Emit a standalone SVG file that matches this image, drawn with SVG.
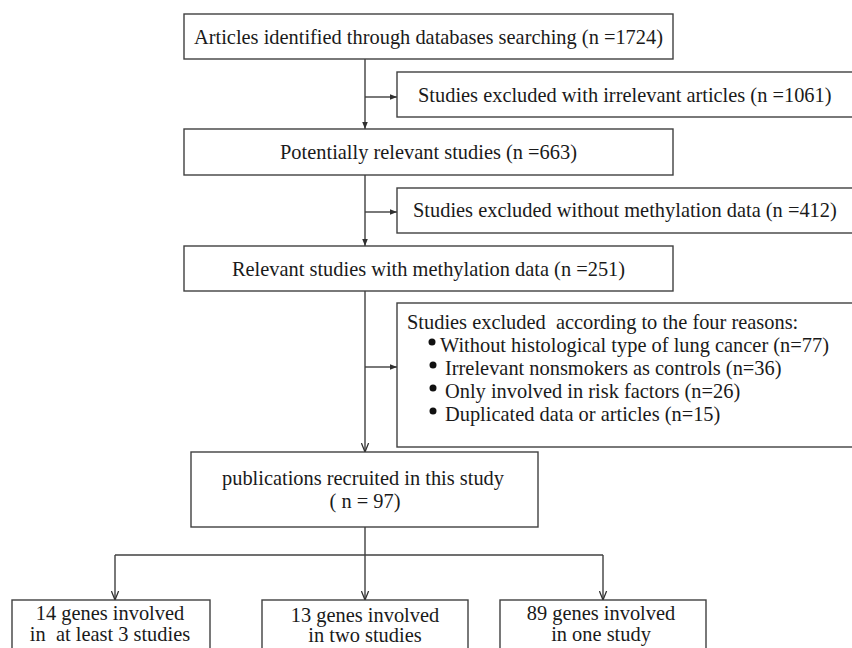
<svg xmlns="http://www.w3.org/2000/svg" width="852" height="648" viewBox="0 0 852 648">
<style>
.box{fill:#fff;stroke:#404040;stroke-width:1.4}
.ln{fill:none;stroke:#404040;stroke-width:1.4}
text{font-family:"Liberation Serif","Times New Roman",serif;font-size:20.4px;fill:#1a1a1a;white-space:pre}
.c{text-anchor:middle}
</style>
<defs>
<marker id="fa" viewBox="0 0 10 10" refX="10" refY="5" markerWidth="7" markerHeight="7" markerUnits="userSpaceOnUse" orient="auto">
<path d="M0,1 L10,5 L0,9 z" fill="#303030"/>
</marker>
<marker id="va" viewBox="0 0 10 10" refX="10" refY="5" markerWidth="9" markerHeight="9" markerUnits="userSpaceOnUse" orient="auto">
<path d="M0,1 L10,5 L0,9" fill="none" stroke="#303030" stroke-width="1.4"/>
</marker>
</defs>
<rect width="852" height="648" fill="#fff"/>
<g id="connectors">
<line class="ln" x1="365" y1="59" x2="365" y2="129" marker-end="url(#fa)"/>
<line class="ln" x1="365" y1="97" x2="397" y2="97" marker-end="url(#fa)"/>
<line class="ln" x1="365" y1="175" x2="365" y2="246" marker-end="url(#fa)"/>
<line class="ln" x1="365" y1="212" x2="397" y2="212" marker-end="url(#fa)"/>
<line class="ln" x1="365" y1="291" x2="365" y2="452" marker-end="url(#va)"/>
<line class="ln" x1="365" y1="367" x2="397" y2="367" marker-end="url(#fa)"/>
<line class="ln" x1="365" y1="527" x2="365" y2="555"/>
<polyline class="ln" points="115,555 603,555"/>
<line class="ln" x1="115" y1="555" x2="115" y2="600" marker-end="url(#va)"/>
<line class="ln" x1="365" y1="555" x2="365" y2="600" marker-end="url(#va)"/>
<line class="ln" x1="603" y1="555" x2="603" y2="600" marker-end="url(#va)"/>
</g>
<g id="n1">
<rect class="box" x="184" y="14" width="489" height="45"/>
<text class="c" x="428.5" y="44">Articles identified through databases searching (n =1724)</text>
</g>
<g id="n2">
<rect class="box" x="397" y="72" width="470" height="45"/>
<text x="418" y="102">Studies excluded with irrelevant articles (n =1061)</text>
</g>
<g id="n3">
<rect class="box" x="184" y="129" width="489" height="46"/>
<text class="c" x="428.5" y="159">Potentially relevant studies (n =663)</text>
</g>
<g id="n4">
<rect class="box" x="397" y="188" width="470" height="45"/>
<text x="413" y="217">Studies excluded without methylation data (n =412)</text>
</g>
<g id="n5">
<rect class="box" x="184" y="246" width="489" height="45"/>
<text class="c" x="428.5" y="276">Relevant studies with methylation data (n =251)</text>
</g>
<g id="n6">
<rect class="box" x="397" y="303" width="470" height="144"/>
<text x="407" y="329">Studies excluded  according to the four reasons:</text>
<circle cx="432" cy="342" r="3.5" fill="#111"/>
<text x="440" y="352">Without histological type of lung cancer (n=77)</text>
<circle cx="433" cy="365" r="3.5" fill="#111"/>
<text x="445" y="375">Irrelevant nonsmokers as controls (n=36)</text>
<circle cx="433" cy="388" r="3.5" fill="#111"/>
<text x="445" y="398">Only involved in risk factors (n=26)</text>
<circle cx="433" cy="411" r="3.5" fill="#111"/>
<text x="445" y="421">Duplicated data or articles (n=15)</text>
</g>
<g id="n7">
<rect class="box" x="191" y="452" width="347" height="75"/>
<text class="c" x="363" y="485">publications recruited in this study</text>
<text class="c" x="365" y="508">( n = 97)</text>
</g>
<g id="n8">
<rect class="box" x="12" y="600" width="198" height="60"/>
<text class="c" x="110" y="620">14 genes involved</text>
<text class="c" x="110" y="641">in  at least 3 studies</text>
</g>
<g id="n9">
<rect class="box" x="262" y="600" width="206" height="60"/>
<text class="c" x="365" y="622">13 genes involved</text>
<text class="c" x="365" y="642">in two studies</text>
</g>
<g id="n10">
<rect class="box" x="500" y="600" width="206" height="60"/>
<text class="c" x="601" y="620">89 genes involved</text>
<text class="c" x="601" y="641">in one study</text>
</g>
</svg>
